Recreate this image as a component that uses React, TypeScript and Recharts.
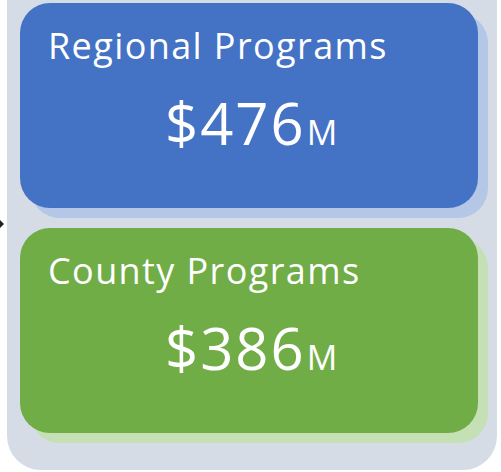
import React from "react";
import { Bar, BarChart, XAxis, YAxis } from "recharts";

const programs = ["Regional Programs", "County Programs"];
const amounts = [476, 386];
const unitLabel = "M";

const boxColors = ["#4472c4", "#70ad47"];
const shadowColors = ["#b4c7e7", "#c5e0b4"];

const data = programs.map((name, i) => ({ name, value: amounts[i] }));

const FONT = "'Open Sans', sans-serif";

function ProgramBox(props: any) {
  const { x, y, width, height, index } = props;
  const r = 30;
  return (
    <g>
      <rect x={x + 10} y={y + 10} width={width} height={height} rx={r} ry={r} fill={shadowColors[index]} />
      <rect x={x} y={y} width={width} height={height} rx={r} ry={r} fill={boxColors[index]} />
      <text x={x + 28} y={y + 56} fill="#fff" fontSize={36} letterSpacing={1.4} fontFamily={FONT}>
        {programs[index]}
      </text>
      <text x={x + 145} y={y + 142} fill="#fff" fontFamily={FONT}>
        <tspan fontSize={58} letterSpacing={2}>${amounts[index]}</tspan>
        <tspan fontSize={34} dx={1}>{unitLabel}</tspan>
      </text>
    </g>
  );
}

export default function App() {
  return (
    <div style={{ position: "absolute", left: 0, top: 0, width: 501, height: 472, overflow: "hidden", background: "#fff" }}>
      <div
        style={{
          position: "absolute",
          left: 7,
          top: -40,
          width: 490,
          height: 510,
          borderRadius: 34,
          background: "#d6dce5",
        }}
      />
      <div
        style={{
          position: "absolute",
          left: 0,
          top: 220,
          width: 0,
          height: 0,
          borderTop: "4px solid transparent",
          borderBottom: "4px solid transparent",
          borderLeft: "4px solid #222",
        }}
      />
      <div style={{ position: "absolute", left: 0, top: 0 }}>
        <BarChart
          width={501}
          height={472}
          data={data}
          layout="vertical"
          margin={{ top: -7, right: 23, bottom: 29, left: 20 }}
        >
          <XAxis type="number" hide domain={[0, "dataMax"]} />
          <YAxis type="category" dataKey="name" hide />
          <Bar
            dataKey="value"
            barSize={205}
            background={<ProgramBox />}
            shape={() => <g />}
            isAnimationActive={false}
          />
        </BarChart>
      </div>
    </div>
  );
}
